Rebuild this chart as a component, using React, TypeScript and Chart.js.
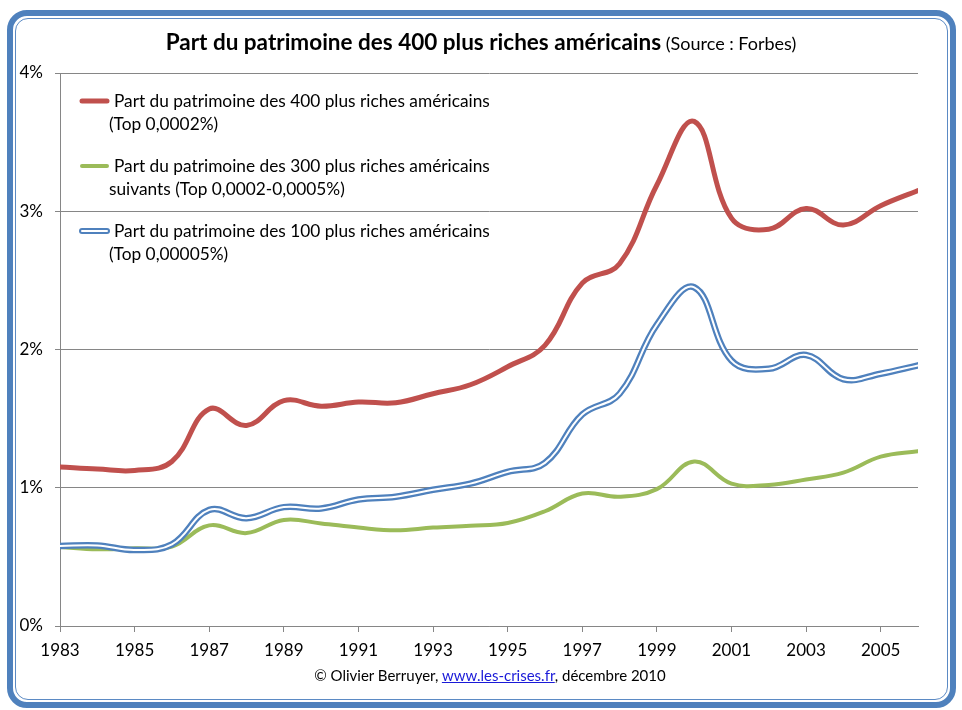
import React, { useEffect, useRef } from "react";
import { Chart, registerables } from "chart.js";

Chart.register(...registerables);

const years = [1983, 1984, 1985, 1986, 1987, 1988, 1989, 1990, 1991, 1992, 1993, 1994, 1995, 1996, 1997, 1998, 1999, 2000, 2001, 2002, 2003, 2004, 2005, 2006];
const top400 = [1.15, 1.135, 1.125, 1.19, 1.57, 1.45, 1.63, 1.59, 1.62, 1.615, 1.68, 1.745, 1.875, 2.03, 2.48, 2.62, 3.19, 3.65, 2.95, 2.87, 3.02, 2.9, 3.04, 3.15];
const next300 = [0.572, 0.555, 0.562, 0.575, 0.728, 0.672, 0.767, 0.742, 0.712, 0.692, 0.712, 0.725, 0.745, 0.83, 0.958, 0.935, 0.99, 1.19, 1.03, 1.02, 1.06, 1.11, 1.225, 1.265];
const top100 = [0.579, 0.583, 0.55, 0.59, 0.84, 0.78, 0.86, 0.85, 0.915, 0.935, 0.985, 1.03, 1.115, 1.18, 1.53, 1.68, 2.18, 2.45, 1.92, 1.86, 1.96, 1.785, 1.825, 1.885];
const xTickYears = [1983, 1985, 1987, 1989, 1991, 1993, 1995, 1997, 1999, 2001, 2003, 2005];
const yTickValues = [0, 1, 2, 3, 4];

const legendRed = ["Part du patrimoine des 400 plus riches américains", "(Top 0,0002%)"];
const legendGreen = ["Part du patrimoine des 300 plus riches américains", "suivants (Top 0,0002-0,0005%)"];
const legendBlue = ["Part du patrimoine des 100 plus riches américains", "(Top 0,00005%)"];

const RED = "#C0504D";
const GREEN = "#9BBB59";
const BLUE = "#4F81BD";
const GRID = "#868686";
const FONT = "Lato, 'Open Sans', sans-serif";

const toPoints = (vals: number[]) => years.map((y, i) => ({ x: y, y: vals[i] }));

const legendPlugin = {
  id: "customLegend",
  afterDraw(chart: any) {
    const ctx = chart.ctx as CanvasRenderingContext2D;
    ctx.save();
    ctx.font = `17.3px ${FONT}`;
    ctx.fillStyle = "#000";
    ctx.textBaseline = "middle";
    ctx.textAlign = "left";
    ctx.lineCap = "round";

    const drawItem = (y: number, lines: string[], kind: string) => {
      const x0 = 82, x1 = 107;
      if (kind === "blue") {
        ctx.strokeStyle = BLUE;
        ctx.lineWidth = 6;
        ctx.beginPath(); ctx.moveTo(x0, y); ctx.lineTo(x1, y); ctx.stroke();
        ctx.strokeStyle = "#fff";
        ctx.lineWidth = 2;
        ctx.beginPath(); ctx.moveTo(x0, y); ctx.lineTo(x1, y); ctx.stroke();
      } else {
        ctx.strokeStyle = kind === "red" ? RED : GREEN;
        ctx.lineWidth = kind === "red" ? 5 : 4;
        ctx.beginPath(); ctx.moveTo(x0, y); ctx.lineTo(x1, y); ctx.stroke();
      }
      ctx.fillText(lines[0], 114, y);
      ctx.fillText(lines[1], 109, y + 23);
    };
    drawItem(101, legendRed, "red");
    drawItem(166, legendGreen, "green");
    drawItem(231, legendBlue, "blue");
    ctx.restore();
  },
};

export default function App() {
  const ref = useRef<HTMLCanvasElement>(null);

  useEffect(() => {
    if (!ref.current) return;
    const line = (label: string, vals: number[], color: string, width: number) => ({
      label,
      data: toPoints(vals),
      borderColor: color,
      backgroundColor: color,
      borderWidth: width,
      pointRadius: 0,
      pointHoverRadius: 0,
      tension: 0.4,
      fill: false,
      borderCapStyle: "round",
      borderJoinStyle: "round",
    });
    const chart = new Chart(ref.current, {
      type: "line",
      data: {
        datasets: [
          line(legendRed.join(" "), top400, RED, 5),
          line("top100-inner", top100, "#ffffff", 2),
          line(legendBlue.join(" "), top100, BLUE, 6.5),
          line(legendGreen.join(" "), next300, GREEN, 4),
        ] as any,
      },
      options: {
        responsive: false,
        animation: false,
        events: [],
        layout: { padding: { left: 8, right: 44, top: 73, bottom: 44 } },
        plugins: { legend: { display: false }, tooltip: { enabled: false }, title: { display: false } },
        scales: {
          x: {
            type: "linear",
            min: 1983,
            max: 2006,
            afterBuildTicks: (s: any) => { s.ticks = xTickYears.map((v) => ({ value: v })); },
            afterFit: (s: any) => { s.height = 40; },
            grid: { display: true, drawOnChartArea: false, drawTicks: true, tickLength: 6, color: GRID },
            border: { display: true, color: GRID },
            ticks: {
              autoSkip: false,
              maxRotation: 0,
              padding: 8,
              color: "#000",
              font: { family: FONT, size: 17 },
              callback: (v: any) => String(v),
            },
          },
          y: {
            type: "linear",
            min: 0,
            max: 4,
            afterBuildTicks: (s: any) => { s.ticks = yTickValues.map((v) => ({ value: v })); },
            afterFit: (s: any) => { s.width = 52; },
            grid: { color: GRID, tickLength: 5 },
            border: { display: true, color: GRID },
            ticks: {
              padding: 12,
              color: "#000",
              font: { family: FONT, size: 17 },
              callback: (v: any) => `${v}%`,
            },
          },
        },
      } as any,
      plugins: [legendPlugin],
    });
    return () => chart.destroy();
  }, []);

  return (
    <div style={{ position: "absolute", left: 0, top: 0, width: 962, height: 710, background: "#fff", fontFamily: FONT }}>
      <div
        style={{
          position: "absolute", left: 7, top: 10, width: 949, height: 698, boxSizing: "border-box",
          border: `6px solid ${BLUE}`, borderRadius: 20,
        }}
      >
        <div
          style={{
            position: "absolute", left: 2, top: 2, right: 2, bottom: 2,
            border: "1.5px solid #5B8AC4", borderRadius: 13,
          }}
        />
      </div>
      <canvas ref={ref} width={962} height={710} style={{ position: "absolute", left: 0, top: 0 }} />
      <div style={{ position: "absolute", left: 0, top: 28, width: 962, textAlign: "center", lineHeight: "28px", color: "#000" }}>
        <span style={{ fontWeight: 700, fontSize: 22.5 }}>Part du patrimoine des 400 plus riches américains</span>
        <span style={{ fontSize: 18 }}> (Source : Forbes)</span>
      </div>
      <div style={{ position: "absolute", left: 9, top: 665, width: 962, textAlign: "center", fontSize: 15, lineHeight: "20px", color: "#000" }}>
        © Olivier Berruyer, <a href="#" style={{ color: "#1a1ad8", textDecoration: "underline" }}>www.les-crises.fr</a>, décembre 2010
      </div>
    </div>
  );
}
